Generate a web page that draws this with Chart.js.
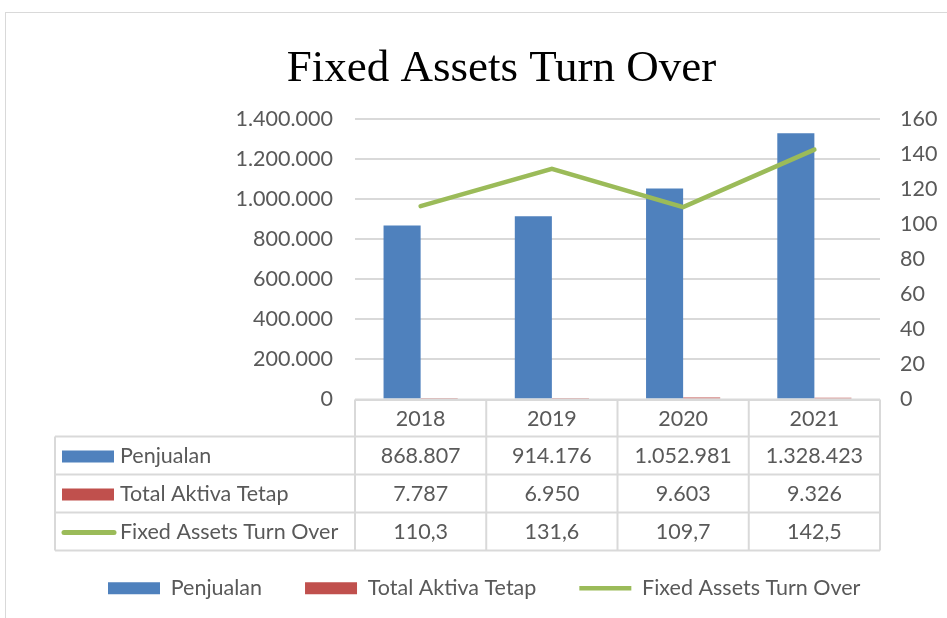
<!DOCTYPE html>
<html>
<head>
<meta charset="utf-8">
<script src="https://cdn.jsdelivr.net/npm/chart.js@4.4.1/dist/chart.umd.min.js"></script>
<style>
html, body { margin: 0; padding: 0; background: #fff; overflow: hidden; }
#frame { position: absolute; left: 5px; top: 12px; width: 1000px; height: 700px; border: 1px solid #d9d9d9; }
#wrap { position: absolute; left: 0; top: 0; width: 997px; height: 609px; }
</style>
</head>
<body>
<div id="frame"></div>
<div id="wrap"><canvas id="chart"></canvas></div>
<script>
// Datos del gráfico
const years = ['2018', '2019', '2020', '2021'];
const penjualan = [868807, 914176, 1052981, 1328423];
const totalAktiva = [7787, 6950, 9603, 9326];
const turnOver = [110.3, 131.6, 109.7, 142.5];

const blue = '#4f81bd';
const red = '#c0504d';
const green = '#9bbb59';
const textGrey = '#595959';
const lineGrey = '#d9d9d9';
const fontSize = 21.5;

// formato con puntos de miles y coma decimal
function fmtInt(v) {
    return String(Math.round(v)).replace(/\B(?=(\d{3})+(?!\d))/g, '.');
}
function fmtDec(v) {
    return v.toFixed(1).replace('.', ',');
}

// Tabla de datos debajo del eje X
const tablePlugin = {
    id: 'dataTable',
    afterDraw(chart) {
        const ctx = chart.ctx;
        const x = chart.scales.x;
        const area = chart.chartArea;
        const half = (x.getPixelForValue(1) - x.getPixelForValue(0)) / 2;
        const left = 55;
        const top = area.bottom;
        const rowH = [37, 38, 38, 38];
        const rows = [
            { label: 'Penjualan', values: penjualan, fmt: fmtInt, color: blue, type: 'box' },
            { label: 'Total Aktiva Tetap', values: totalAktiva, fmt: fmtInt, color: red, type: 'box' },
            { label: 'Fixed Assets Turn Over', values: turnOver, fmt: fmtDec, color: green, type: 'line' }
        ];
        const edges = [x.getPixelForValue(0) - half];
        years.forEach((y, i) => edges.push(x.getPixelForValue(i) + half));
        const ys = [top];
        rowH.forEach(h => ys.push(ys[ys.length - 1] + h));

        ctx.save();
        ctx.strokeStyle = lineGrey;
        ctx.lineWidth = 2;
        ctx.beginPath();
        // líneas horizontales
        ctx.moveTo(edges[0], ys[0]);
        ctx.lineTo(edges[edges.length - 1], ys[0]);
        for (let r = 1; r < ys.length; r++) {
            ctx.moveTo(left, ys[r]);
            ctx.lineTo(edges[edges.length - 1], ys[r]);
        }
        // líneas verticales
        edges.forEach(e => { ctx.moveTo(e, ys[0]); ctx.lineTo(e, ys[ys.length - 1]); });
        ctx.moveTo(left, ys[1]);
        ctx.lineTo(left, ys[ys.length - 1]);
        ctx.stroke();

        ctx.font = fontSize + 'px Lato';
        ctx.fillStyle = textGrey;
        ctx.textBaseline = 'middle';
        ctx.textAlign = 'center';
        years.forEach((y, i) => {
            ctx.fillText(y, x.getPixelForValue(i), (ys[0] + ys[1]) / 2 + 1);
        });
        rows.forEach((row, r) => {
            const cy = (ys[r + 1] + ys[r + 2]) / 2 + 1;
            ctx.textAlign = 'center';
            ctx.fillStyle = textGrey;
            row.values.forEach((v, i) => ctx.fillText(row.fmt(v), x.getPixelForValue(i), cy));
            if (row.type === 'box') {
                ctx.fillStyle = row.color;
                ctx.fillRect(62, cy - 6, 52, 12);
            } else {
                ctx.strokeStyle = row.color;
                ctx.lineWidth = 5;
                ctx.lineCap = 'round';
                ctx.beginPath();
                ctx.moveTo(64, cy);
                ctx.lineTo(114, cy);
                ctx.stroke();
            }
            ctx.fillStyle = textGrey;
            ctx.textAlign = 'left';
            ctx.fillText(row.label, 120, cy);
        });
        ctx.restore();
    }
};

const ctx = document.getElementById('chart').getContext('2d');
const chart = new Chart(ctx, {
    type: 'bar',
    data: {
        labels: years,
        datasets: [
            {
                label: 'Penjualan',
                data: penjualan,
                backgroundColor: blue,
                yAxisID: 'y',
                order: 1,
                pointStyle: 'rect'
            },
            {
                label: 'Total Aktiva Tetap',
                data: totalAktiva,
                backgroundColor: red,
                yAxisID: 'y',
                order: 1,
                pointStyle: 'rect'
            },
            {
                type: 'line',
                label: 'Fixed Assets Turn Over',
                data: turnOver,
                borderColor: green,
                backgroundColor: green,
                borderWidth: 4.5,
                borderCapStyle: 'round',
                pointRadius: 0,
                pointStyle: 'line',
                tension: 0,
                yAxisID: 'y1',
                order: 0
            }
        ]
    },
    options: {
        responsive: true,
        maintainAspectRatio: false,
        animation: false,
        datasets: {
            bar: { categoryPercentage: 0.565, barPercentage: 1.0 }
        },
        layout: { padding: { left: 65, right: 59, top: 12, bottom: 0 } },
        plugins: {
            title: {
                display: true,
                text: 'Fixed Assets Turn Over',
                color: '#000',
                font: { family: 'Liberation Serif', size: 45, weight: 'normal' },
                padding: { top: 30, bottom: 23 }
            },
            legend: {
                position: 'bottom',
                align: 'start',
                labels: {
                    usePointStyle: true,
                    pointStyleWidth: 52,
                    boxHeight: 12,
                    padding: 43,
                    color: textGrey,
                    font: { family: 'Lato', size: fontSize },
                    sort: (a, b) => a.datasetIndex - b.datasetIndex
                }
            },
            tooltip: { enabled: false }
        },
        scales: {
            x: {
                ticks: { display: false },
                grid: { display: false },
                border: { display: false },
                afterFit: s => { s.height = 135; }
            },
            y: {
                position: 'left',
                min: 0,
                max: 1400000,
                ticks: {
                    stepSize: 200000,
                    padding: 22,
                    color: textGrey,
                    font: { family: 'Lato', size: fontSize },
                    callback: v => fmtInt(v)
                },
                grid: { color: lineGrey, lineWidth: 2, drawTicks: false },
                border: { display: false },
                afterFit: s => { s.width = 290; }
            },
            y1: {
                position: 'right',
                min: 0,
                max: 160,
                ticks: {
                    stepSize: 20,
                    padding: 20,
                    color: textGrey,
                    font: { family: 'Lato', size: fontSize }
                },
                grid: { drawOnChartArea: false, drawTicks: false },
                border: { display: false },
                afterFit: s => { s.width = 58; }
            }
        }
    },
    plugins: [tablePlugin]
});
</script>
</body>
</html>
